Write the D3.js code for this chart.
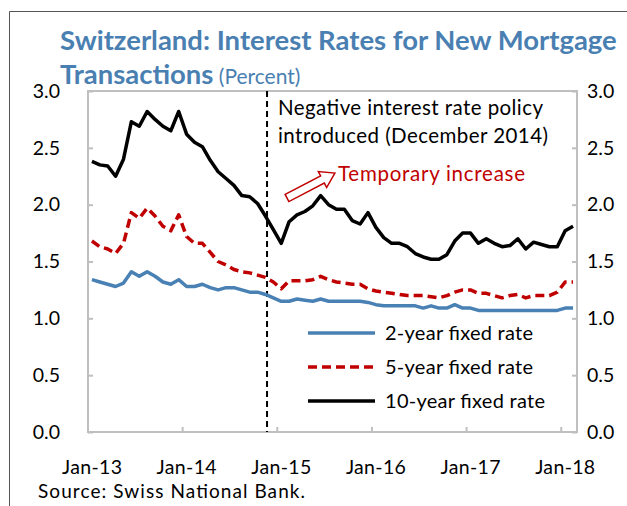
<!DOCTYPE html>
<html>
<head>
<meta charset="utf-8">
<script src="https://cdn.jsdelivr.net/npm/d3@7"></script>
<style>
  body { margin: 0; background: #fff; }
  svg { display: block; font-family: Lato, "Open Sans", sans-serif; }
</style>
</head>
<body>
<div class="canvas"></div>
<script>
// months Jan-13 .. Feb-18
const months = d3.range(62).map(i => d3.timeFormat("%b-%y")(new Date(2013, i, 1)));
const tickMonths = ["Jan-13", "Jan-14", "Jan-15", "Jan-16", "Jan-17", "Jan-18"];
const yTicks = [0, 0.5, 1, 1.5, 2, 2.5, 3];

const rate2y = [1.34,1.32,1.30,1.28,1.31,1.41,1.37,1.41,1.37,1.32,1.30,1.34,1.28,1.28,1.30,1.27,
  1.25,1.27,1.27,1.25,1.23,1.23,1.21,1.18,1.15,1.15,1.17,1.16,1.15,1.17,1.15,1.15,1.15,1.15,
  1.15,1.14,1.12,1.11,1.11,1.11,1.11,1.11,1.09,1.11,1.09,1.09,1.12,1.09,1.09,1.07,1.07,
  1.07,1.07,1.07,1.07,1.07,1.07,1.07,1.07,1.07,1.09,1.09];
const rate5y = [1.68,1.63,1.61,1.57,1.66,1.93,1.88,1.97,1.90,1.81,1.77,1.91,1.72,1.66,1.66,1.58,
  1.50,1.47,1.43,1.41,1.40,1.38,1.36,1.32,1.26,1.33,1.33,1.33,1.34,1.37,1.34,1.32,1.31,1.30,
  1.30,1.26,1.24,1.23,1.22,1.21,1.20,1.20,1.20,1.19,1.18,1.20,1.23,1.25,1.25,1.22,1.22,
  1.20,1.18,1.20,1.21,1.18,1.20,1.20,1.20,1.23,1.32,1.32];
const rate10y = [2.38,2.35,2.34,2.25,2.40,2.73,2.69,2.82,2.75,2.69,2.65,2.82,2.62,2.55,2.51,2.39,
  2.29,2.23,2.17,2.08,2.07,2.01,1.90,1.78,1.66,1.85,1.91,1.94,1.99,2.08,2.00,1.96,1.96,1.86,
  1.83,1.93,1.80,1.71,1.66,1.66,1.63,1.57,1.54,1.52,1.52,1.56,1.68,1.75,1.75,1.66,1.70,
  1.66,1.63,1.64,1.70,1.61,1.67,1.65,1.63,1.63,1.77,1.81];

const series = [
  {name: "2-year fixed rate", values: rate2y, color: "#4a81b4", dash: null, len: 148},
  {name: "5-year fixed rate", values: rate5y, color: "#c00000", dash: "9,5", len: 148},
  {name: "10-year fixed rate", values: rate10y, color: "#000", dash: null, len: 160}
];

const dims = {width: 627, height: 506};
const plot = {left: 88, right: 577, top: 91, bottom: 432};

const svg = d3.select(".canvas").append("svg")
    .attr("width", dims.width)
    .attr("height", dims.height);

// outer frame (left and top edges visible)
svg.append("path")
    .attr("d", `M9.5,${dims.height} V11.5 H${dims.width}`)
    .attr("fill", "none")
    .attr("stroke", "#555")
    .attr("stroke-width", 1);

// title
const fit = (sel, w) => {
    const len = sel.node().getComputedTextLength();
    sel.attr("font-size", parseFloat(sel.attr("font-size")) * w / len);
};
const t1 = svg.append("text")
    .attr("x", 60).attr("y", 50)
    .attr("font-size", 22).attr("font-weight", "bold")
    .attr("fill", "#4a7fb2")
    .text("Switzerland:  Interest Rates for New Mortgage");
fit(t1, 557);
const t2 = svg.append("text")
    .attr("x", 60).attr("y", 84)
    .attr("font-size", t1.attr("font-size"))
    .attr("fill", "#4a7fb2");
t2.append("tspan").attr("font-weight", "bold").text("Transactions");
t2.append("tspan").attr("font-size", 21).text(" (Percent)");

// scales
const x = d3.scaleBand().domain(months).range([plot.left, plot.right]);
const bw = x.bandwidth();
const cx = m => x(m) + bw / 2;
const y = d3.scaleLinear().domain([0, 3]).range([plot.bottom, plot.top]);

// plot box
svg.append("rect")
    .attr("x", plot.left).attr("y", plot.top)
    .attr("width", plot.right - plot.left).attr("height", plot.bottom - plot.top)
    .attr("fill", "none").attr("stroke", "#bfbfbf").attr("stroke-width", 2);

// y axes, ticks pointing inward
const yLeft = svg.append("g")
    .attr("transform", `translate(${plot.left},0)`)
    .call(d3.axisLeft(y).tickValues(yTicks).tickFormat(d3.format(".1f")).tickSize(-5).tickPadding(28));
const yRight = svg.append("g")
    .attr("transform", `translate(${plot.right},0)`)
    .call(d3.axisRight(y).tickValues(yTicks).tickFormat(d3.format(".1f")).tickSize(-5).tickPadding(10));
[yLeft, yRight].forEach(g => {
    g.select(".domain").remove();
    g.selectAll(".tick line").attr("stroke", "#bfbfbf").attr("stroke-width", 2);
    g.selectAll(".tick text").attr("font-size", 19.5).attr("fill", "#000").attr("font-family", "Lato");
});

// x ticks between categories, labels under the month
svg.selectAll(".xtick").data(tickMonths.slice(1)).enter().append("line")
    .attr("class", "xtick")
    .attr("x1", d => x(d)).attr("x2", d => x(d))
    .attr("y1", plot.bottom).attr("y2", plot.bottom - 5)
    .attr("stroke", "#bfbfbf").attr("stroke-width", 2);
svg.selectAll(".xlabel").data(tickMonths).enter().append("text")
    .attr("class", "xlabel")
    .attr("x", d => cx(d)).attr("y", 474)
    .attr("text-anchor", "middle")
    .attr("font-size", 19.5)
    .attr("textLength", 60).attr("lengthAdjust", "spacing")
    .text(d => d);

// policy line (December 2014)
svg.append("line")
    .attr("x1", x("Nov-14") + bw * 0.7).attr("x2", x("Nov-14") + bw * 0.7)
    .attr("y1", plot.top).attr("y2", plot.bottom)
    .attr("stroke", "#000").attr("stroke-width", 2).attr("stroke-dasharray", "6,4");

// series lines
const line = d3.line().x((d, i) => cx(months[i])).y(d => y(d));
series.forEach(s => {
    svg.append("path")
        .datum(s.values)
        .attr("fill", "none")
        .attr("stroke", s.color)
        .attr("stroke-width", 3.5)
        .attr("stroke-linejoin", "round")
        .attr("stroke-dasharray", s.dash)
        .attr("d", line);
});

// annotation
const note = svg.append("text").attr("font-size", 20.5).attr("fill", "#000");
note.append("tspan").attr("x", 278).attr("y", 115)
    .attr("textLength", 265).attr("lengthAdjust", "spacing")
    .text("Negative interest rate policy");
note.append("tspan").attr("x", 278).attr("y", 143)
    .attr("textLength", 270).attr("lengthAdjust", "spacing")
    .text("introduced (December 2014)");

// hollow arrow
const ang = Math.atan2(-25, 48) * 180 / Math.PI;
svg.append("path")
    .attr("transform", `translate(287,198) rotate(${ang})`)
    .attr("d", "M0,-4 H40 V-9 L54,0 L40,9 V4 H0 Z")
    .attr("fill", "#fff").attr("stroke", "#c00000").attr("stroke-width", 1.5);
svg.append("text")
    .attr("x", 338).attr("y", 181)
    .attr("font-size", 20.5).attr("fill", "#c00000")
    .attr("textLength", 187).attr("lengthAdjust", "spacing")
    .text("Temporary increase");

// legend
const legend = svg.selectAll(".legend").data(series).enter().append("g")
    .attr("class", "legend")
    .attr("transform", (d, i) => `translate(308,${333 + i * 34})`);
legend.append("line")
    .attr("x1", 0).attr("x2", 67)
    .attr("stroke", d => d.color).attr("stroke-width", 3.5)
    .attr("stroke-dasharray", d => d.dash);
legend.append("text")
    .attr("x", 77).attr("y", 7)
    .attr("font-size", 20)
    .attr("textLength", d => d.len).attr("lengthAdjust", "spacing")
    .text(d => d.name);

// source
svg.append("text")
    .attr("x", 38).attr("y", 498)
    .attr("font-size", 19)
    .attr("textLength", 267).attr("lengthAdjust", "spacing")
    .text("Source: Swiss National Bank.");
</script>
</body>
</html>
